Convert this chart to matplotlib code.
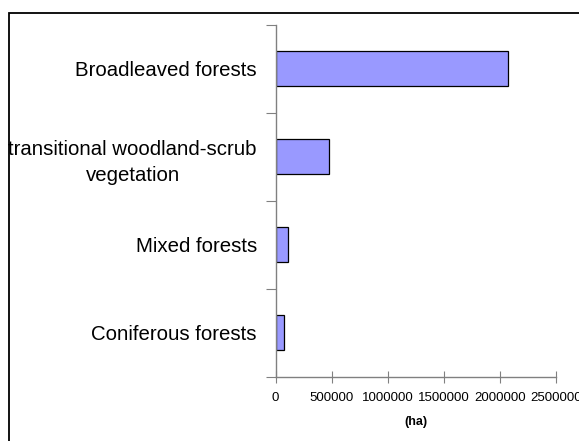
import matplotlib
matplotlib.use("Agg")
import matplotlib.pyplot as plt
from matplotlib.patches import Rectangle
import numpy as np

plt.rcParams['font.family'] = ['Liberation Sans', 'DejaVu Sans']

categories = ["Coniferous forests", "Mixed forests",
              "transitional woodland-scrub\nvegetation", "Broadleaved forests"]
values = [75000, 115000, 480000, 2070000]
xticks = [0, 500000, 1000000, 1500000, 2000000, 2500000]
xlabel = "(ha)"

fig = plt.figure(figsize=(5.79, 4.41), dpi=100)
ax = fig.add_axes([0.476, 0.1458, 0.484, 0.798])

pos = np.arange(len(categories))
ax.barh(pos, values, height=0.4, color="#9999FF", edgecolor="black", linewidth=0.9)

ax.set_xlim(0, 2500000)
ax.set_ylim(-0.5, len(categories) - 0.5)

ax.set_xticks(xticks)
ax.set_xticklabels([str(t) for t in xticks], fontsize=9.5)
ax.tick_params(axis='x', direction='inout', length=8, width=0.8, color='#808080', pad=7)

ax.set_yticks(np.arange(-0.5, len(categories), 1.0))
ax.set_yticklabels([])
ax.tick_params(axis='y', which='major', direction='out', length=7, width=0.8, color='#808080')
ax.set_yticks(pos, minor=True)
ax.set_yticklabels(categories, minor=True, fontsize=14.7, multialignment='center',
                   linespacing=1.45)
ax.tick_params(axis='y', which='minor', length=0, pad=13.5)

for s in ['top', 'right']:
    ax.spines[s].set_visible(False)
for s in ['left', 'bottom']:
    ax.spines[s].set_color('#808080')
    ax.spines[s].set_linewidth(1.0)

ax.set_xlabel(xlabel, fontsize=9, fontweight='bold', labelpad=9)

fig.patches.append(Rectangle((9 / 579, -0.1), 1.2, 1 - 13 / 441 + 0.1,
                             transform=fig.transFigure, fill=False,
                             edgecolor='black', linewidth=1.3))

fig.savefig("out.png", dpi=100)
